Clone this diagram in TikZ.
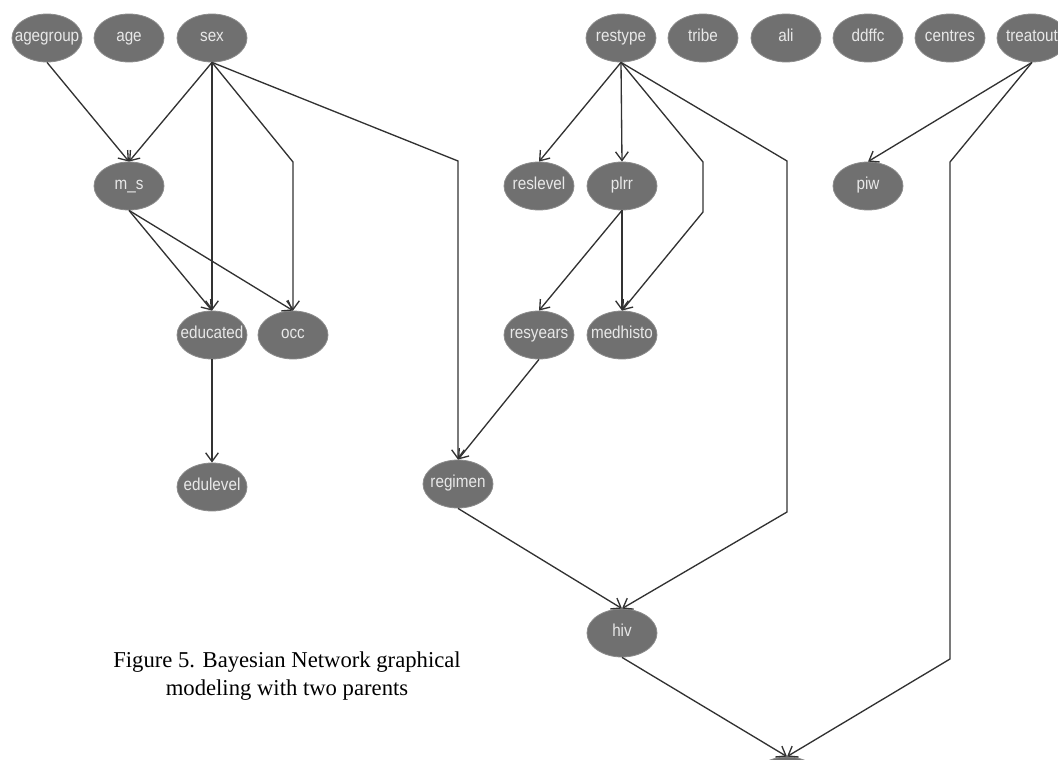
\documentclass[tikz,border=0pt]{standalone}
\usepackage{fontspec}
\setmainfont{Liberation Serif}
\newfontfamily\nodefont[FakeStretch=0.88]{Liberation Sans}
\usetikzlibrary{shapes.geometric,arrows.meta}
\definecolor{nodegray}{RGB}{112,112,112}
\definecolor{nodeedge}{RGB}{140,140,140}
\definecolor{nodetext}{RGB}{232,232,232}
\definecolor{edgecol}{RGB}{50,50,50}
\newcommand{\lbl}[1]{\makebox[0pt][c]{#1}}
\begin{document}
\begin{tikzpicture}[x=0.75pt,y=-0.75pt,
  bn/.style={ellipse, fill=nodegray, draw=nodeedge, line width=0.6pt,
    minimum width=52.5pt, minimum height=36pt, inner sep=0pt,
    text height=7pt, text depth=2pt,
    text=nodetext, font=\nodefont\fontsize{13}{15}\selectfont},
  link/.style={draw=edgecol, line width=1pt, -{Straight Barb[length=6.5pt,width=9.5pt]}},
  captionstyle/.style={align=center, font=\fontsize{17}{21}\selectfont, inner sep=0pt}]
\useasboundingbox (0,0) rectangle (1058,760);
\clip (0,0) rectangle (1058,760);
% top row
\node[bn] (agegroup) at (47,38) {\lbl{agegroup}};
\node[bn] (age) at (129,38) {\lbl{age}};
\node[bn] (sex) at (212,38) {\lbl{sex}};
\node[bn] (restype) at (621,38) {\lbl{restype}};
\node[bn] (tribe) at (703,38) {\lbl{tribe}};
\node[bn] (ali) at (786,38) {\lbl{ali}};
\node[bn] (ddffc) at (868,38) {\lbl{ddffc}};
\node[bn] (centres) at (950,38) {\lbl{centres}};
\node[bn] (treatout) at (1032,38) {\lbl{treatout}};
% second row
\node[bn] (ms) at (129,186) {\lbl{m\_s}};
\node[bn] (reslevel) at (539,186) {\lbl{reslevel}};
\node[bn] (plrr) at (622,186) {\lbl{plrr}};
\node[bn] (piw) at (868,186) {\lbl{piw}};
% third row
\node[bn] (educated) at (212,335) {\lbl{educated}};
\node[bn] (occ) at (293,335) {\lbl{occ}};
\node[bn] (resyears) at (539,335) {\lbl{resyears}};
\node[bn] (medhisto) at (622,335) {\lbl{medhisto}};
% fourth row
\node[bn] (edulevel) at (212,487) {\lbl{edulevel}};
\node[bn] (regimen) at (458,484) {\lbl{regimen}};
% fifth
\node[bn] (hiv) at (622,633) {\lbl{hiv}};
\node[bn] (outnode) at (787,781) {};
% caption
\node[captionstyle] (caption) at (287,676) {Figure 5. Bayesian Network graphical\\modeling with two parents};
% bend points
\coordinate (bocc) at (293,162);
\coordinate (breg) at (458,161);
\coordinate (bmedA) at (703,162);
\coordinate (bmedB) at (703,212);
\coordinate (bhivA) at (787,161);
\coordinate (bhivB) at (787,512);
\coordinate (boutA) at (950,162);
\coordinate (boutB) at (950,659);
% edges
\draw[link] (agegroup.south) -- (ms.north);
\draw[link] (sex.south) -- (ms.north);
\draw[link] (sex.south) -- (educated.north);
\draw[link] (sex.south) -- (bocc) -- (occ.north);
\draw[link] (sex.south) -- (breg) -- (regimen.north);
\draw[link] (ms.south) -- (educated.north);
\draw[link] (ms.south) -- (occ.north);
\draw[link] (educated.south) -- (edulevel.north);
\draw[link] (restype.south) -- (reslevel.north);
\draw[link] (restype.south) -- (plrr.north);
\draw[link] (restype.south) -- (bmedA) -- (bmedB) -- (medhisto.north);
\draw[link] (restype.south) -- (bhivA) -- (bhivB) -- (hiv.north);
\draw[link] (treatout.south) -- (piw.north);
\draw[link] (treatout.south) -- (boutA) -- (boutB) -- (outnode.north);
\draw[link] (plrr.south) -- (resyears.north);
\draw[link] (plrr.south) -- (medhisto.north);
\draw[link] (resyears.south) -- (regimen.north);
\draw[link] (regimen.south) -- (hiv.north);
\draw[link] (hiv.south) -- (outnode.north);
\end{tikzpicture}
\end{document}
